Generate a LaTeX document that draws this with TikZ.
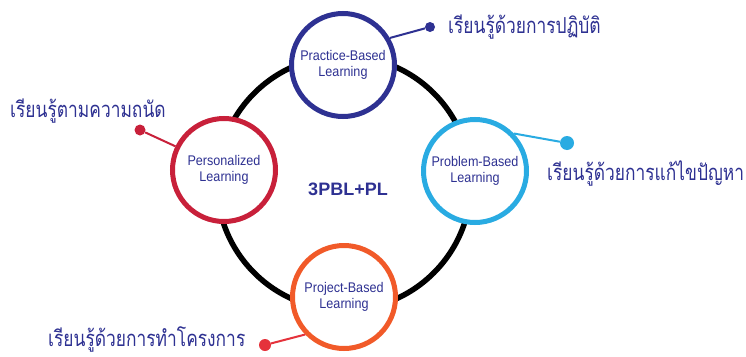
\documentclass[tikz,border=0pt]{standalone}
\usepackage{fontspec}
\newfontfamily\thaifont[Script=Thai,FakeStretch=0.79]{Loma}
\newfontfamily\engfont[FakeStretch=0.9]{Liberation Sans}
\newfontfamily\corefont{Liberation Sans}
\definecolor{navy}{HTML}{2E3192}
\definecolor{ired}{HTML}{C8203A}
\definecolor{isky}{HTML}{29ABE2}
\definecolor{iorange}{HTML}{F15A29}
\definecolor{dred}{HTML}{E5323B}
\begin{document}
\begin{tikzpicture}[x=1pt,y=-1pt,
  topic/.style={circle,draw=#1,line width=5pt,fill=white,minimum size=103pt,inner sep=0pt,
    align=center,font=\engfont\fontsize{14}{16}\selectfont,text=navy},
  thai/.style={anchor=base west,inner sep=0pt,text=navy,font=\thaifont\fontsize{22}{26}\selectfont},
  dot/.style={circle,fill=#1,inner sep=0pt},
  link/.style={draw=#1,line width=2pt}]
\useasboundingbox (0,0) rectangle (746,356);
\fill[white] (0,0) rectangle (746,356);
\draw[line width=5.5pt,black] (344,183) circle[radius=127];
\node[topic=navy] (prac) at (343,65) {Practice-Based\\Learning};
\node[topic=ired] (pers) at (224,170) {Personalized\\Learning};
\node[topic=isky] (prob) at (475,171) {Problem-Based\\Learning};
\node[topic=iorange] (proj) at (344,297) {Project-Based\\Learning};
\node[text=navy,font=\corefont\bfseries\fontsize{18}{20}\selectfont] (core) at (348,189) {3PBL+PL};
\node[dot=navy,minimum size=10pt] (d1) at (430,27) {};
\node[dot=ired,minimum size=11pt] (d2) at (140,130) {};
\node[dot=isky,minimum size=14pt] (d3) at (567,143) {};
\node[dot=dred,minimum size=12pt] (d4) at (265,345) {};
\draw[link=navy] (prac.30) -- (d1);
\draw[link=ired] (pers.154) -- (d2);
\draw[link=isky] (prob.44) -- (d3);
\draw[link=dred] (proj.224) -- (d4);
\node[thai] (t1) at (448,33) {เรียนรู้ด้วยการปฏิบัติ};
\node[thai] (t2) at (10,117) {เรียนรู้ตามความถนัด};
\node[thai] (t3) at (547,180) {เรียนรู้ด้วยการแก้ไขปัญหา};
\node[thai] (t4) at (48,346) {เรียนรู้ด้วยการทำโครงการ};
\end{tikzpicture}
\end{document}
